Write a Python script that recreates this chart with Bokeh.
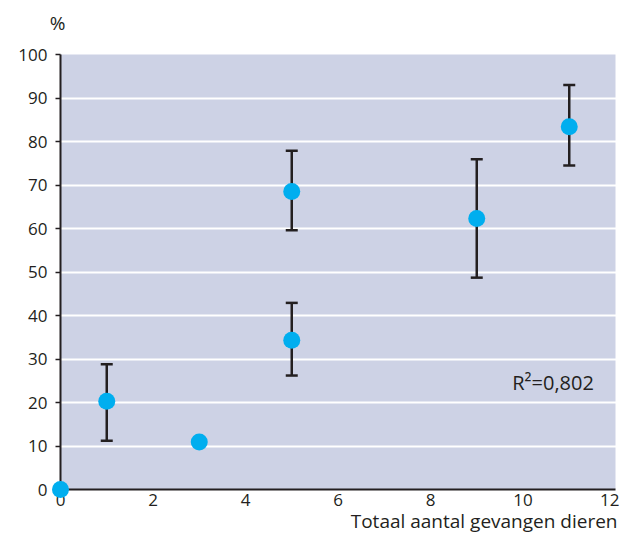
from bokeh.plotting import figure
from bokeh.models import (ColumnDataSource, Whisker, TeeHead, Label, FixedTicker,
                          Range1d, BoxAnnotation)
from bokeh.embed import file_html
from bokeh.resources import INLINE

# Data
x_vals = [0, 1, 3, 5, 5, 9, 11]
y_vals = [0, 20.3, 10.9, 68.5, 34.3, 62.3, 83.4]

err_x = [1, 5, 5, 9, 11]
err_lower = [11.2, 59.6, 26.2, 48.7, 74.5]
err_upper = [28.8, 77.9, 42.9, 75.9, 93.0]

x_ticks = [0, 2, 4, 6, 8, 10, 12]
y_ticks = [0, 10, 20, 30, 40, 50, 60, 70, 80, 90, 100]

r2_text = "R²=0,802"
x_title = "Totaal aantal gevangen dieren"
y_title = "%"

FONT = "Open Sans"
DARK = "#231F20"
BG = "#CDD2E5"

x_min, x_max = x_ticks[0], x_ticks[-1]
y_min, y_max = y_ticks[0], y_ticks[-1]

# layout: the frame fills the whole canvas; the data area sits inside it
W, H = 619, 536
left_px, right_px = 60, 615      # pixel positions of x_min / x_max
top_px, bottom_px = 54, 489      # pixel positions of y_max / y_min
sx = (right_px - left_px) / (x_max - x_min)
sy = (bottom_px - top_px) / (y_max - y_min)
xr = Range1d(x_min - left_px / sx, x_min + (W - left_px) / sx)
yr = Range1d(y_max - H / sy + top_px / sy, y_max + top_px / sy)

p = figure(width=W, height=H, output_backend="svg", toolbar_location=None,
           x_range=xr, y_range=yr,
           min_border_left=0, min_border_right=0, min_border_top=0, min_border_bottom=0)
p.background_fill_color = "white"
p.border_fill_color = "white"
p.outline_line_color = None

# plot background only inside the data area
p.add_layout(BoxAnnotation(left=x_min, right=x_max, bottom=y_min, top=y_max,
                           fill_color=BG, fill_alpha=1, line_color=None, level="image"))

p.xgrid.grid_line_color = None
p.ygrid.grid_line_color = "white"
p.ygrid.grid_line_width = 2
p.ygrid.ticker = FixedTicker(ticks=y_ticks[1:-1])

p.xaxis.ticker = FixedTicker(ticks=x_ticks)
p.yaxis.ticker = FixedTicker(ticks=y_ticks)
p.xaxis.fixed_location = y_min
p.yaxis.fixed_location = x_min
p.xaxis.bounds = (x_min, x_max)
p.yaxis.bounds = (y_min, y_max)
for ax in (p.xaxis, p.yaxis):
    ax.axis_line_color = DARK
    ax.axis_line_width = 2
    ax.minor_tick_line_color = None
    ax.major_label_text_font = FONT
    ax.major_label_text_font_size = "17px"
    ax.major_label_text_color = DARK
p.xaxis.major_tick_line_color = None
p.xaxis.major_tick_in = 0
p.xaxis.major_tick_out = 0
p.xaxis.major_label_standoff = 4
p.yaxis.major_tick_out = 5
p.yaxis.major_tick_in = 0
p.yaxis.major_tick_line_color = DARK
p.yaxis.major_tick_line_width = 1.5
p.yaxis.major_label_standoff = 8

err_src = ColumnDataSource(dict(x=err_x, lower=err_lower, upper=err_upper))
w = Whisker(base="x", lower="lower", upper="upper", source=err_src,
            line_color=DARK, line_width=2.5, level="underlay",
            upper_head=TeeHead(size=12, line_color=DARK, line_width=2.5),
            lower_head=TeeHead(size=12, line_color=DARK, line_width=2.5))
p.add_layout(w)

pt_src = ColumnDataSource(dict(x=x_vals, y=y_vals))
p.scatter("x", "y", source=pt_src, size=17, fill_color="#00AEEF", line_color=None,
          level="overlay")

p.add_layout(Label(x=10.65, y=24.6, text=r2_text, text_align="center", text_baseline="middle",
                   text_font=FONT, text_font_size="20px", text_color=DARK))

p.add_layout(Label(x=x_max, y=y_min, text=x_title, text_align="right", text_baseline="middle",
                   x_offset=2, y_offset=-31,
                   text_font=FONT, text_font_size="19px", text_color=DARK))
p.add_layout(Label(x=x_min, y=y_max, text=y_title, text_align="center", text_baseline="middle",
                   x_offset=-3, y_offset=32,
                   text_font=FONT, text_font_size="19px", text_color=DARK))

open("out.html", "w").write(file_html(p, INLINE))
